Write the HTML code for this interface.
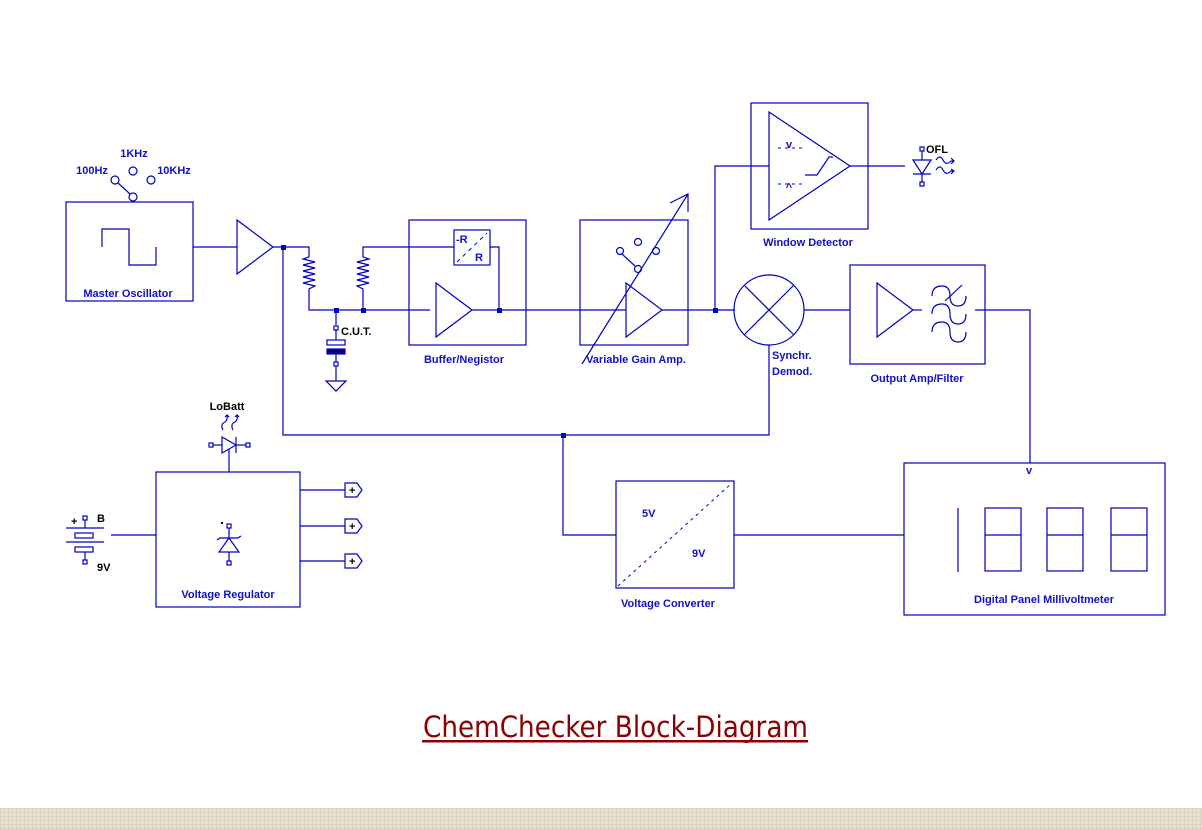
<!DOCTYPE html>
<html><head><meta charset="utf-8"><style>
html,body{margin:0;padding:0;background:#fff;}
svg{display:block;}
text{font-family:"Liberation Sans",Arial,sans-serif;font-weight:bold;font-size:11px;fill:#1010c8;}
.k{fill:#000;}
</style></head><body>
<svg width="1202" height="829" viewBox="0 0 1202 829" xmlns="http://www.w3.org/2000/svg">
<defs>
<pattern id="dots" width="4" height="4" patternUnits="userSpaceOnUse">
<rect width="4" height="4" fill="#e4dccb"/><rect width="1" height="1" fill="#c9bfa8"/><rect x="2" y="2" width="1" height="1" fill="#f3efe4"/>
</pattern>
</defs>
<g fill="none" stroke="#0000c0" stroke-width="1.2">
<!-- master oscillator -->
<rect x="66" y="202" width="127" height="99"/>
<polyline points="102,247 102,229 129,229 129,265 156,265 156,247"/>
<circle cx="115" cy="180" r="4"/><circle cx="133" cy="171" r="4"/><circle cx="151" cy="180" r="4"/><circle cx="133" cy="197" r="4"/>
<line x1="118" y1="183" x2="130" y2="194"/>
<line x1="193" y1="247" x2="237" y2="247"/>
<polygon points="237,220 237,274 273,247"/>
<polyline points="273,247 309,247 309,257"/>
<polyline points="309,257 303,259 315,262 303,265 315,268 303,271 315,274 303,277 315,280 303,283 315,286 309,289 309,310 430,310"/>
<polyline points="363,310 363,289 357,286 369,283 357,280 369,277 357,274 369,271 357,268 369,265 357,262 369,259 363,257 363,247 454,247"/>
<!-- CUT -->
<line x1="336" y1="310" x2="336" y2="325"/>
<rect x="334" y="326" width="4" height="4"/>
<line x1="336" y1="330" x2="336" y2="340"/>
<rect x="327" y="340" width="18" height="5"/>
<rect x="327" y="349" width="18" height="5" fill="#000080"/>
<line x1="336" y1="354" x2="336" y2="362"/>
<rect x="334" y="362" width="4" height="4"/>
<line x1="336" y1="366" x2="336" y2="381"/>
<polygon points="326,381 346,381 336,391"/>
<!-- buffer -->
<rect x="409" y="220" width="117" height="125"/>
<rect x="454" y="230" width="36" height="35"/>
<line x1="457" y1="262" x2="487" y2="233" stroke-dasharray="4,4" stroke-width="1"/>
<polyline points="490,247 499,247 499,310"/>
<polygon points="436,283 436,337 472,310"/>
<line x1="472" y1="310" x2="626" y2="310"/>
<!-- VGA -->
<rect x="580" y="220" width="108" height="125"/>
<polygon points="626,283 626,337 662,310"/>
<circle cx="620" cy="251" r="3.5"/><circle cx="638" cy="242" r="3.5"/><circle cx="656" cy="251" r="3.5"/><circle cx="638" cy="269" r="3.5"/>
<line x1="622" y1="254" x2="635" y2="266"/>
<line x1="582" y1="364" x2="688" y2="194"/>
<polyline points="670,203 688,194 688,212"/>
<line x1="662" y1="310" x2="735" y2="310"/>
<polyline points="715,310 715,166 769,166"/>
<!-- window detector -->
<rect x="751" y="103" width="117" height="126"/>
<polygon points="769,112 769,220 850,166"/>
<line x1="778" y1="148" x2="806" y2="148" stroke-dasharray="3,4" stroke-width="1"/>
<line x1="778" y1="184" x2="806" y2="184" stroke-dasharray="3,4" stroke-width="1"/>
<polyline points="805,175 817,175 829,157 833,157"/>
<line x1="850" y1="166" x2="905" y2="166"/>
<polygon points="913,160 931,160 922,174"/>
<line x1="913" y1="174" x2="931" y2="174"/>
<line x1="922" y1="151" x2="922" y2="160"/>
<rect x="920" y="147" width="4" height="4"/>
<line x1="922" y1="174" x2="922" y2="182"/>
<rect x="920" y="182" width="4" height="4"/>
<path d="M936,160 q4,-6 7,0 q3,6 8,1 l3,0 M951,158 l3,3 l-3,3"/>
<path d="M936,170 q4,-6 7,0 q3,6 8,1 l3,0 M951,169 l3,2 l-3,3"/>
<!-- demod -->
<circle cx="769" cy="310" r="35"/>
<line x1="744" y1="285" x2="794" y2="335"/><line x1="794" y1="285" x2="744" y2="335"/>
<line x1="804" y1="310" x2="850" y2="310"/>
<polyline points="283,247 283,435 769,435 769,345"/>
<!-- output amp -->
<rect x="850" y="265" width="135" height="99"/>
<polygon points="877,283 877,337 913,310"/>
<line x1="913" y1="310" x2="922" y2="310"/>
<path d="M932,296 q0,-10 10,-10 q8,0 8,10 q0,10 8,10 q8,0 8,-10"/>
<path d="M932,314 q0,-10 10,-10 q8,0 8,10 q0,10 8,10 q8,0 8,-10"/>
<path d="M932,332 q0,-10 10,-10 q8,0 8,10 q0,10 8,10 q8,0 8,-10"/>
<line x1="945" y1="301" x2="962" y2="285"/>
<polyline points="975,310 1030,310 1030,463"/>
<!-- DPM -->
<rect x="904" y="463" width="261" height="152"/>
<line x1="958" y1="508" x2="958" y2="572"/>
<rect x="985" y="508" width="36" height="63"/><line x1="985" y1="535" x2="1021" y2="535"/>
<rect x="1047" y="508" width="36" height="63"/><line x1="1047" y1="535" x2="1083" y2="535"/>
<rect x="1111" y="508" width="36" height="63"/><line x1="1111" y1="535" x2="1147" y2="535"/>
<!-- converter -->
<rect x="616" y="481" width="118" height="107"/>
<line x1="618" y1="586" x2="732" y2="483" stroke-dasharray="3,4" stroke-width="1"/>
<polyline points="563,435 563,535 616,535"/>
<line x1="734" y1="535" x2="904" y2="535"/>
<!-- regulator -->
<rect x="156" y="472" width="144" height="135"/>
<line x1="300" y1="490" x2="345" y2="490"/><line x1="300" y1="526" x2="345" y2="526"/><line x1="300" y1="561" x2="345" y2="561"/>
<polygon points="345,483 357,483 362,490 357,497 345,497"/>
<polygon points="345,519 357,519 362,526 357,533 345,533"/>
<polygon points="345,554 357,554 362,561 357,568 345,568"/>
<rect x="227" y="524" width="4" height="4"/>
<line x1="229" y1="528" x2="229" y2="538"/>
<polyline points="217,540 220,538 238,538 241,536"/>
<polygon points="229,538 219,552 239,552"/>
<line x1="229" y1="552" x2="229" y2="561"/>
<rect x="227" y="561" width="4" height="4"/>
<!-- LoBatt LED -->
<rect x="209" y="443" width="4" height="4"/>
<line x1="213" y1="445" x2="222" y2="445"/>
<polygon points="222,437 222,453 236,445"/>
<line x1="236" y1="437" x2="236" y2="453"/>
<line x1="236" y1="445" x2="246" y2="445"/>
<rect x="246" y="443" width="4" height="4"/>
<line x1="229" y1="449" x2="229" y2="472"/>
<path d="M223,430 q-3,-6 2,-8 q3,-2 2,-7 M225,417 l2,-2 l2,2"/>
<path d="M233,430 q-3,-6 2,-8 q3,-2 2,-7 M235,417 l2,-2 l2,2"/>
<!-- battery -->
<rect x="83" y="516" width="4" height="4"/>
<line x1="85" y1="520" x2="85" y2="528"/>
<line x1="66" y1="528" x2="104" y2="528"/>
<rect x="75" y="533" width="18" height="5"/>
<line x1="66" y1="542" x2="104" y2="542"/>
<rect x="75" y="547" width="18" height="5"/>
<line x1="85" y1="552" x2="85" y2="560"/>
<rect x="83" y="560" width="4" height="4"/>
<line x1="111" y1="535" x2="156" y2="535"/>
</g>
<g fill="#0000c0">
<rect x="281" y="245" width="5" height="5"/>
<rect x="334" y="308" width="5" height="5"/>
<rect x="361" y="308" width="5" height="5"/>
<rect x="497" y="308" width="5" height="5"/>
<rect x="713" y="308" width="5" height="5"/>
<rect x="561" y="433" width="5" height="5"/>
<rect x="221" y="522" width="2" height="2" fill="#000"/>
</g>
<g fill="#000" font-family="Liberation Sans" font-weight="bold" font-size="11">
<text x="349" y="494" class="k">+</text><text x="349" y="530" class="k">+</text><text x="349" y="565" class="k">+</text>
</g>
<text x="134" y="157" text-anchor="middle">1KHz</text>
<text x="92" y="174" text-anchor="middle">100Hz</text>
<text x="174" y="174" text-anchor="middle">10KHz</text>
<text x="128" y="297" text-anchor="middle">Master Oscillator</text>
<text x="341" y="335" class="k">C.U.T.</text>
<text x="456" y="243">-R</text>
<text x="475" y="261">R</text>
<text x="464" y="363" text-anchor="middle">Buffer/Negistor</text>
<text x="636" y="363" text-anchor="middle">Variable Gain Amp.</text>
<text x="808" y="246" text-anchor="middle">Window Detector</text>
<text x="789" y="148" text-anchor="middle" font-size="10">v</text>
<text x="789" y="191" text-anchor="middle" font-size="10">^</text>
<text x="926" y="153" class="k">OFL</text>
<text x="772" y="359">Synchr.</text>
<text x="772" y="375">Demod.</text>
<text x="917" y="382" text-anchor="middle">Output Amp/Filter</text>
<text x="1029" y="474" text-anchor="middle" font-size="10">v</text>
<text x="1044" y="603" text-anchor="middle">Digital Panel Millivoltmeter</text>
<text x="642" y="517">5V</text>
<text x="692" y="557">9V</text>
<text x="668" y="607" text-anchor="middle">Voltage Converter</text>
<text x="228" y="598" text-anchor="middle">Voltage Regulator</text>
<text x="227" y="410" text-anchor="middle" class="k">LoBatt</text>
<text x="71" y="525" class="k" font-size="12">+</text>
<text x="97" y="522" class="k">B</text>
<text x="97" y="571" class="k">9V</text>
<text x="423" y="737" textLength="385" lengthAdjust="spacingAndGlyphs" style="font-family:'DejaVu Sans','Liberation Sans',sans-serif;font-weight:normal;font-size:29px;fill:#8b0000;">ChemChecker Block-Diagram</text>
<rect x="422" y="740" width="386" height="2.5" fill="#8b0000"/>
<rect x="0" y="808" width="1202" height="21" fill="url(#dots)"/>
</svg>
</body></html>
